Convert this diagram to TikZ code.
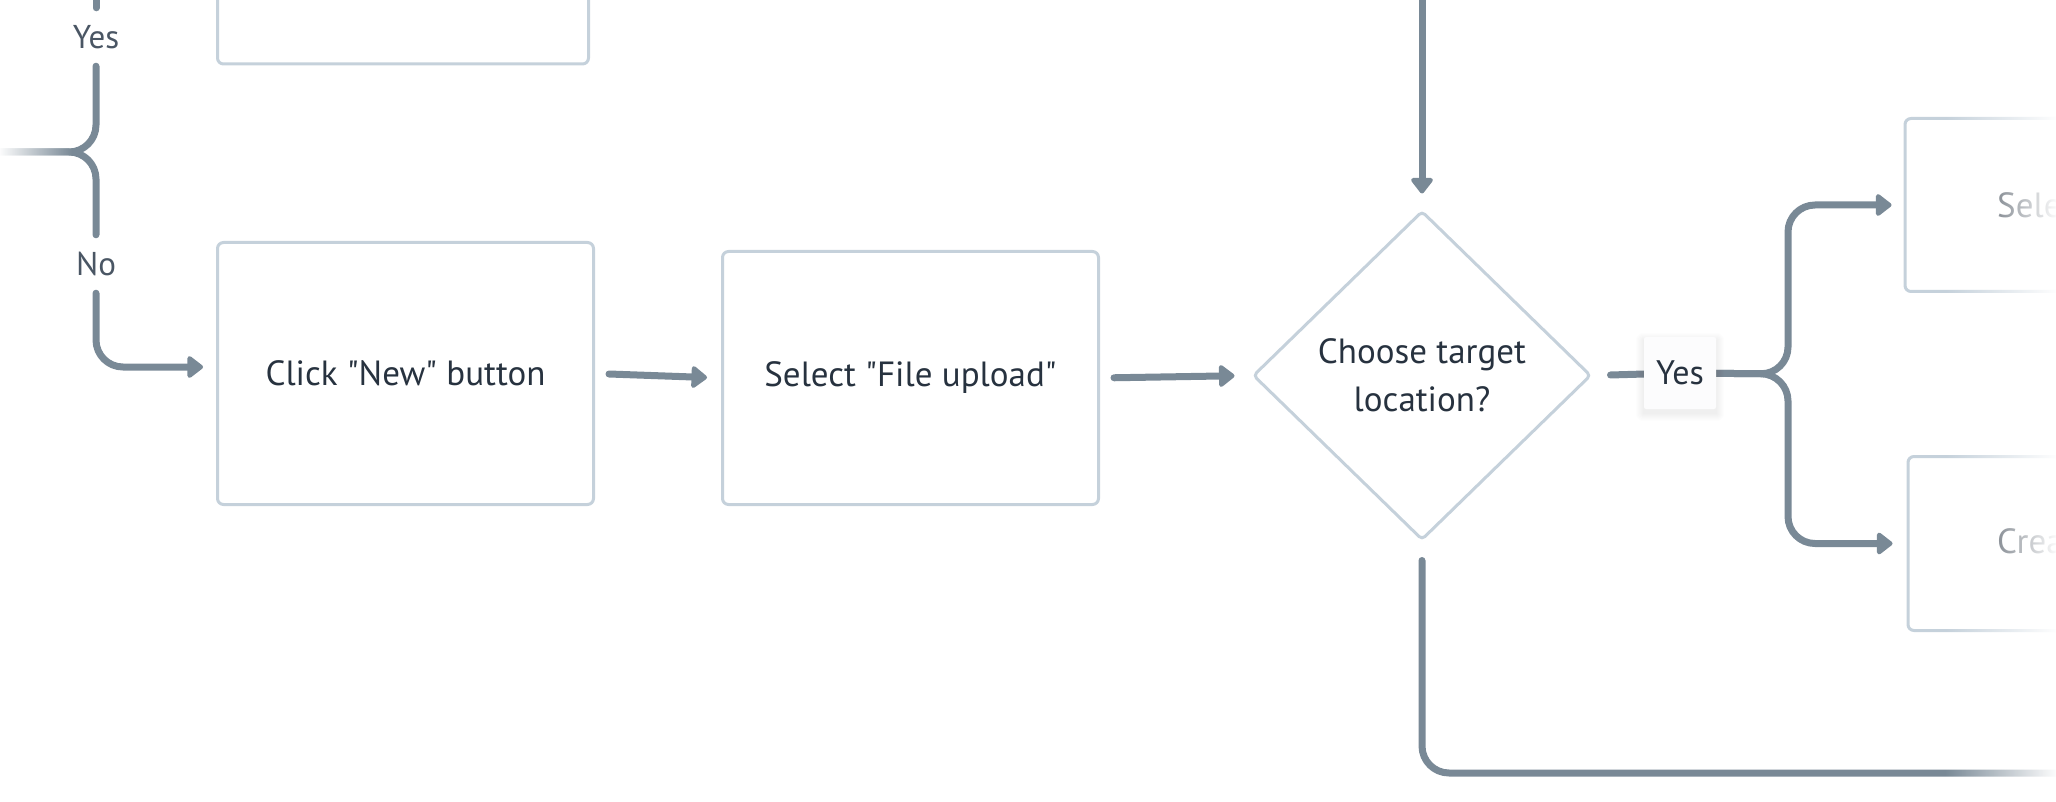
\documentclass[tikz,border=0pt]{standalone}
\usepackage{fontspec}
\setmainfont{PT Sans}[Ligatures=TeXOff]
\usetikzlibrary{arrows.meta,shapes.geometric,fadings,backgrounds}
\definecolor{cgrey}{HTML}{798996}
\definecolor{bord}{HTML}{C5D1DB}
\definecolor{txt}{HTML}{27323F}
\definecolor{ltxt}{HTML}{4A5664}
\definecolor{lblfill}{HTML}{FCFCFD}
\tikzfading[name=fadeR, left color=transparent!100, right color=transparent!0]
\tikzfading[name=fadeL, left color=transparent!0, right color=transparent!100]
\begin{document}
\begin{tikzpicture}[x=1pt,y=-1pt,
  box/.style={draw=bord, line width=3pt, rounded corners=6pt, fill=white, text=txt,
    font=\fontsize{35}{48}\selectfont, align=center, inner sep=0pt},
  dec/.style={box, shape=diamond, rounded corners=4pt, aspect=1},
  llab/.style={text=ltxt, font=\fontsize{33}{40}\selectfont, inner sep=0pt, minimum height=58pt},
  rlab/.style={fill=lblfill, text=txt, font=\fontsize{34}{40}\selectfont, inner sep=0pt,
    minimum width=72pt, minimum height=72pt, rounded corners=2pt},
  link/.style={draw=cgrey, line width=7pt, line cap=round, rounded corners=27pt},
  arr/.style={link, -{Triangle[length=17pt,width=25pt,round]}},
  fadetext/.style={text=txt, font=\fontsize{35}{48}\selectfont, inner sep=0pt}
]
\useasboundingbox (0,0) rectangle (2056,802);
\clip (0,0) rectangle (2056,802);

% nodes
\node[box, minimum width=371pt, minimum height=252pt] (n0) at (403,-62) {};
\node[box, minimum width=376pt, minimum height=262pt] (n1) at (405.5,373.5) {Click "New" button};
\node[box, minimum width=376pt, minimum height=253pt] (n2) at (910.5,378) {Select "File upload"};
\node[dec, minimum width=338pt, minimum height=329pt] (d) at (1422,375.5) {Choose target\\location?};
\node[box, minimum width=376pt, minimum height=173pt] (sel) at (2093,205) {};
\node[box, minimum width=376pt, minimum height=174pt] (cre) at (2096,543.5) {};
\node[fadetext, anchor=west] (selT) at (1997,205) {Sele};
\node[fadetext, anchor=west] (creT) at (1997,541) {Crea};

\node[llab] (yesL) at (96,37) {Yes};
\node[llab] (noL) at (96,264) {No};
\node[rlab] (yesR) at (1680,373) {Yes};

\coordinate (lin) at (-20,152);
\coordinate (jl) at (96,152);
\coordinate (ltop) at (96,-20);
\coordinate (dtop) at (1422,-20);
\coordinate (bend) at (2080,773);

% connectors
\begin{scope}[on background layer]
\draw[link] (lin) -- (jl) -- (yesL.south);
\draw[link] (yesL.north) -- (ltop);
\draw[link] (lin) -- (jl) -- (noL.north);
\draw[arr, shorten >=13pt] (noL.south) -- (96,367) -- ([yshift=6.5pt]n1.west);
\draw[arr, shorten <=14pt, shorten >=14pt] (n1.east) -- (n2.west);
\draw[arr, shorten <=14pt, shorten >=17pt] (n2.east) -- (d.west);
\draw[arr, shorten >=16pt] (dtop) -- (d.north);
\draw[link, shorten <=18pt] (d.east) -- (yesR.center);
\draw[arr, shorten >=12pt] (yesR.center) -- (1788,374) -- (1788,205) -- (sel.west);
\draw[arr, shorten >=14pt] (yesR.center) -- (1788,374) -- (1788,543.5) -- (cre.west);
\draw[link, shorten <=19pt] (d.south) -- (1422,773) -- (bend);
% soft shadow of the label
\foreach \i in {1,...,8}
  \fill[black, opacity=0.009, rounded corners=\i pt]
    ([shift={(-\i,-\i+4)}]yesR.north west) rectangle ([shift={(\i,\i+4)}]yesR.south east);
\end{scope}

% fades at the picture edges
\fill[white, path fading=fadeR] (1945,95) rectangle (2058,802);
\fill[white, path fading=fadeL] (-2,135) rectangle (72,170);
\end{tikzpicture}
\end{document}
